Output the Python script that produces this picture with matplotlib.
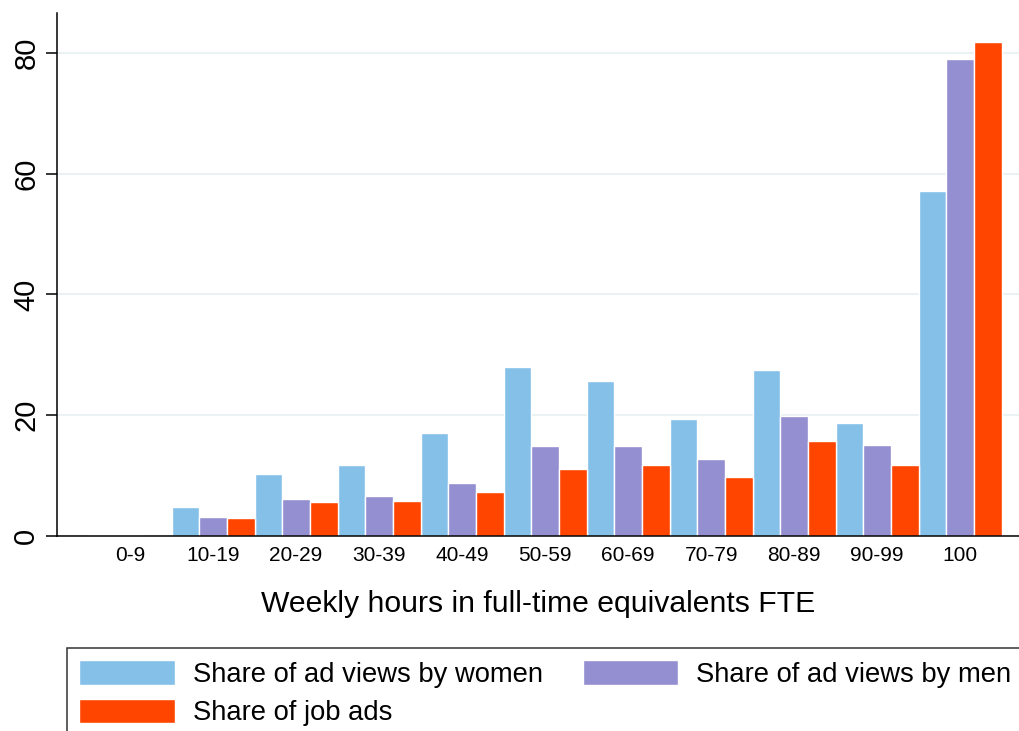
import matplotlib.pyplot as plt
import numpy as np

plt.rcParams['font.family'] = ['Liberation Sans', 'DejaVu Sans']

categories = ['0-9', '10-19', '20-29', '30-39', '40-49', '50-59',
              '60-69', '70-79', '80-89', '90-99', '100']
women = [0.1, 4.8, 10.2, 11.8, 17.1, 28.0, 25.7, 19.4, 27.5, 18.7, 57.1]
men = [0.2, 3.1, 6.1, 6.6, 8.8, 14.9, 14.9, 12.7, 19.9, 15.1, 79.0]
job_ads = [0.0, 3.0, 5.6, 5.8, 7.3, 11.1, 11.8, 9.8, 15.7, 11.8, 81.8]

fig = plt.figure(figsize=(10.2, 7.31), dpi=100)
ax = fig.add_axes([57 / 1020, 195 / 731, 963 / 1020, 523 / 731])

x = np.arange(len(categories))
w = 1 / 3
b1 = ax.bar(x - w, women, w, color='#85C0E9', edgecolor='white', lw=1,
            label='Share of ad views by women', zorder=3)
b2 = ax.bar(x, men, w, color='#948FD0', edgecolor='white', lw=1,
            label='Share of ad views by men', zorder=3)
b3 = ax.bar(x + w, job_ads, w, color='#FF4500', edgecolor='white', lw=1,
            label='Share of job ads', zorder=3)

ax.set_xlim(-0.88, 10.72)
ax.set_ylim(0, 86.6)
ax.set_yticks([0, 20, 40, 60, 80])
ax.set_xticks(x)
ax.set_xticklabels(categories, fontsize=15)
ax.tick_params(axis='x', length=0, pad=7)
ax.tick_params(axis='y', length=8, width=1.1, labelsize=21, pad=4)
for lab in ax.get_yticklabels():
    lab.set_rotation(90)
    lab.set_va('center')

ax.yaxis.grid(True, color='#EAF2F3', lw=1.5, zorder=0)
ax.set_axisbelow(True)
for s in ['top', 'right']:
    ax.spines[s].set_visible(False)
for s in ['left', 'bottom']:
    ax.spines[s].set_linewidth(1.1)
    ax.spines[s].set_zorder(4)

ax.set_xlabel('Weekly hours in full-time equivalents FTE', fontsize=21.7,
              labelpad=18)

# row-major order like the original: women, men / job ads
leg = fig.legend([b1, b3, b2],
                 ['Share of ad views by women', 'Share of job ads',
                  'Share of ad views by men'],
                 loc='upper left', bbox_to_anchor=(67 / 1020, 1 - 648 / 731),
                 ncol=2, fontsize=19.7, frameon=True, fancybox=False,
                 edgecolor='black', handlelength=3.5, handleheight=1.0,
                 handletextpad=0.65, columnspacing=1.45, labelspacing=0.4,
                 borderpad=0.45, borderaxespad=0)
leg.get_frame().set_linewidth(1.1)

fig.savefig('out.png', dpi=100)
